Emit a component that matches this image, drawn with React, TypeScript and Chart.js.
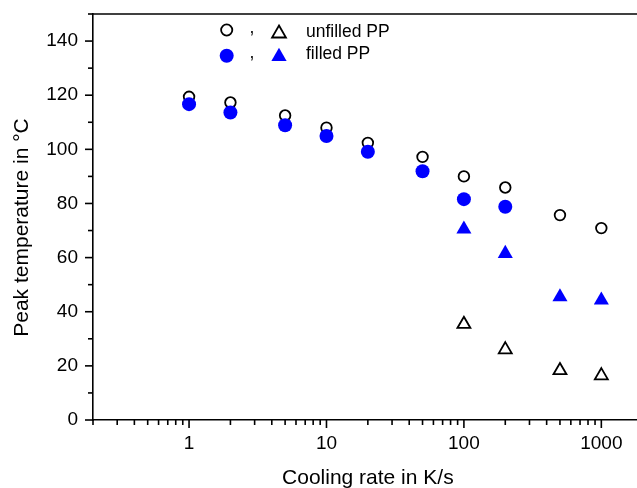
import React, { useEffect, useRef } from 'react';
import { Chart, registerables } from 'chart.js';

Chart.register(...registerables);

const FONT = '"Liberation Sans", Arial, Helvetica, sans-serif';

// Data (cooling rate in K/s, peak temperature in °C)
const circleRates = [1, 2, 5, 10, 20, 50, 100, 200, 500, 1000];
const unfilledCircle = [119.4, 117.3, 112.5, 108.0, 102.4, 97.2, 90.0, 85.9, 75.7, 70.9];
const filledCircleRates = [1, 2, 5, 10, 20, 50, 100, 200];
const filledCircle = [116.7, 113.6, 108.9, 104.9, 99.1, 91.9, 81.6, 78.8];
const triangleRates = [100, 200, 500, 1000];
const unfilledTriangle = [35.4, 26.0, 18.3, 16.4];
const filledTriangle = [70.5, 61.5, 45.5, 44.3];

// Axis ticks
const xMajorTicks = [1, 10, 100, 1000];
const xMinorTicks = [
  0.2, 0.3, 0.4, 0.5, 0.6, 0.7, 0.8, 0.9,
  2, 3, 4, 5, 6, 7, 8, 9,
  20, 30, 40, 50, 60, 70, 80, 90,
  200, 300, 400, 500, 600, 700, 800, 900, 2000,
];
const yMajorTicks = [0, 20, 40, 60, 80, 100, 120, 140];
const yMinorTicks = [10, 30, 50, 70, 90, 110, 130, 150];

const xTitle = 'Cooling rate in K/s';
const yTitle = 'Peak temperature in °C';
const legendLabels = ['unfilled PP', 'filled PP'];

const BLUE = '#0000ff';

function pts(xs: number[], ys: number[]) {
  return xs.map((x, i) => ({ x, y: ys[i] }));
}

function drawCircle(ctx: CanvasRenderingContext2D, x: number, y: number, r: number, fill: string | null, stroke: string | null, lw: number) {
  ctx.beginPath();
  ctx.arc(x, y, r, 0, Math.PI * 2);
  ctx.closePath();
  if (fill) { ctx.fillStyle = fill; ctx.fill(); }
  if (stroke) { ctx.strokeStyle = stroke; ctx.lineWidth = lw; ctx.stroke(); }
}

function drawTriangle(ctx: CanvasRenderingContext2D, x: number, y: number, r: number, fill: string | null, stroke: string | null, lw: number) {
  const a = (2 * Math.PI) / 3;
  ctx.beginPath();
  for (let i = 0; i < 3; i++) {
    const rad = i * a;
    const px = x + Math.sin(rad) * r;
    const py = y - Math.cos(rad) * r;
    if (i === 0) ctx.moveTo(px, py); else ctx.lineTo(px, py);
  }
  ctx.closePath();
  if (fill) { ctx.fillStyle = fill; ctx.fill(); }
  if (stroke) { ctx.strokeStyle = stroke; ctx.lineWidth = lw; ctx.stroke(); }
}

const decorPlugin = {
  id: 'decor',
  afterDraw(chart: any) {
    const { ctx, chartArea } = chart;
    const xs = chart.scales.x;
    const ys = chart.scales.y;
    ctx.save();
    ctx.strokeStyle = '#000';
    ctx.lineWidth = 1.6;
    const line = (x1: number, y1: number, x2: number, y2: number) => {
      ctx.beginPath();
      ctx.moveTo(x1, y1);
      ctx.lineTo(x2, y2);
      ctx.stroke();
    };
    // top frame line
    line(chartArea.left, chartArea.top, chartArea.right, chartArea.top);
    // y ticks (outward)
    yMajorTicks.forEach((v) => {
      const y = ys.getPixelForValue(v);
      line(chartArea.left - 8, y, chartArea.left, y);
    });
    yMinorTicks.forEach((v) => {
      const y = ys.getPixelForValue(v);
      line(chartArea.left - 5, y, chartArea.left, y);
    });
    // x ticks (outward)
    xMajorTicks.forEach((v) => {
      const x = xs.getPixelForValue(v);
      line(x, chartArea.bottom, x, chartArea.bottom + 8);
    });
    xMinorTicks.forEach((v) => {
      const x = xs.getPixelForValue(v);
      line(x, chartArea.bottom, x, chartArea.bottom + 5);
    });

    // y axis title
    ctx.save();
    ctx.translate(22, 227.5);
    ctx.rotate(-Math.PI / 2);
    ctx.font = `21px ${FONT}`;
    ctx.fillStyle = '#000';
    ctx.textAlign = 'center';
    ctx.textBaseline = 'middle';
    ctx.fillText(yTitle, 0, 0);
    ctx.restore();

    // legend
    drawCircle(ctx, 226.7, 30, 5.6, null, '#000', 1.8);
    drawTriangle(ctx, 279, 33.5, 8, null, '#000', 1.8);
    drawCircle(ctx, 226.7, 55.7, 7, BLUE, null, 0);
    drawTriangle(ctx, 279, 56.5, 8.8, BLUE, null, 0);
    ctx.fillStyle = '#000';
    ctx.font = `17.5px ${FONT}`;
    ctx.textAlign = 'left';
    ctx.textBaseline = 'alphabetic';
    ctx.fillText(',', 249.5, 33);
    ctx.fillText(',', 249.5, 57.5);
    ctx.fillText(legendLabels[0], 306, 36.6);
    ctx.fillText(legendLabels[1], 306, 58.6);
    ctx.restore();
  },
};

export default function App() {
  const ref = useRef<HTMLCanvasElement>(null);

  useEffect(() => {
    document.body.style.margin = '0';
    const chart = new Chart(ref.current as HTMLCanvasElement, {
      type: 'scatter',
      data: {
        datasets: [
          {
            label: 'unfilled PP (circles)',
            data: pts(circleRates, unfilledCircle),
            pointStyle: 'circle',
            pointRadius: 5.3,
            pointBorderWidth: 1.8,
            pointBorderColor: '#000',
            pointBackgroundColor: 'rgba(0,0,0,0)',
            order: 3,
          },
          {
            label: 'filled PP (circles)',
            data: pts(filledCircleRates, filledCircle),
            pointStyle: 'circle',
            pointRadius: 7,
            pointBorderWidth: 0,
            pointBackgroundColor: BLUE,
            pointBorderColor: BLUE,
            order: 2,
          },
          {
            label: 'unfilled PP (triangles)',
            data: pts(triangleRates, unfilledTriangle),
            pointStyle: 'triangle',
            pointRadius: 7.5,
            pointBorderWidth: 1.8,
            pointBorderColor: '#000',
            pointBackgroundColor: 'rgba(0,0,0,0)',
            order: 1,
          },
          {
            label: 'filled PP (triangles)',
            data: pts(triangleRates, filledTriangle),
            pointStyle: 'triangle',
            pointRadius: 8.7,
            pointBorderWidth: 0,
            pointBackgroundColor: BLUE,
            pointBorderColor: BLUE,
            order: 0,
          },
        ],
      },
      options: {
        animation: false,
        responsive: true,
        maintainAspectRatio: false,
        layout: { padding: { top: 14, right: 8, left: 0, bottom: 0 } },
        plugins: {
          legend: { display: false },
          tooltip: { enabled: false },
        },
        events: [],
        scales: {
          x: {
            type: 'logarithmic',
            min: 0.2,
            max: 2000,
            afterBuildTicks: (scale: any) => {
              scale.ticks = xMajorTicks.map((v) => ({ value: v }));
            },
            afterFit: (scale: any) => {
              scale.height = 68;
              scale.paddingLeft = 0;
              scale.paddingRight = 0;
            },
            ticks: {
              autoSkip: false,
              maxRotation: 0,
              padding: 12,
              color: '#000',
              font: { size: 19, family: FONT },
              callback: (v: any) => String(v),
            },
            grid: { display: true, drawOnChartArea: false, drawTicks: false, color: 'rgba(0,0,0,0)' },
            border: { display: true, color: '#000', width: 1.6 },
            title: {
              display: true,
              text: xTitle,
              color: '#000',
              font: { size: 21, family: FONT, lineHeight: 0.9 },
              padding: 0,
            },
          },
          y: {
            type: 'linear',
            min: 0,
            max: 150,
            afterBuildTicks: (scale: any) => {
              scale.ticks = yMajorTicks.map((v) => ({ value: v }));
            },
            afterFit: (scale: any) => {
              scale.width = 93;
              scale.paddingTop = 0;
              scale.paddingBottom = 0;
            },
            ticks: {
              padding: 15,
              color: '#000',
              font: { size: 19, family: FONT },
              callback: (v: any) => String(v),
            },
            grid: { display: true, drawOnChartArea: false, drawTicks: false, color: 'rgba(0,0,0,0)' },
            border: { display: true, color: '#000', width: 1.6 },
            title: { display: false },
          },
        },
      },
      plugins: [decorPlugin],
    } as any);
    return () => chart.destroy();
  }, []);

  return (
    <div style={{ position: 'fixed', left: 0, top: 0, width: 637, height: 488, overflow: 'hidden', background: '#fff' }}>
      <div style={{ position: 'relative', width: 652, height: 488 }}>
        <canvas ref={ref} />
      </div>
    </div>
  );
}
